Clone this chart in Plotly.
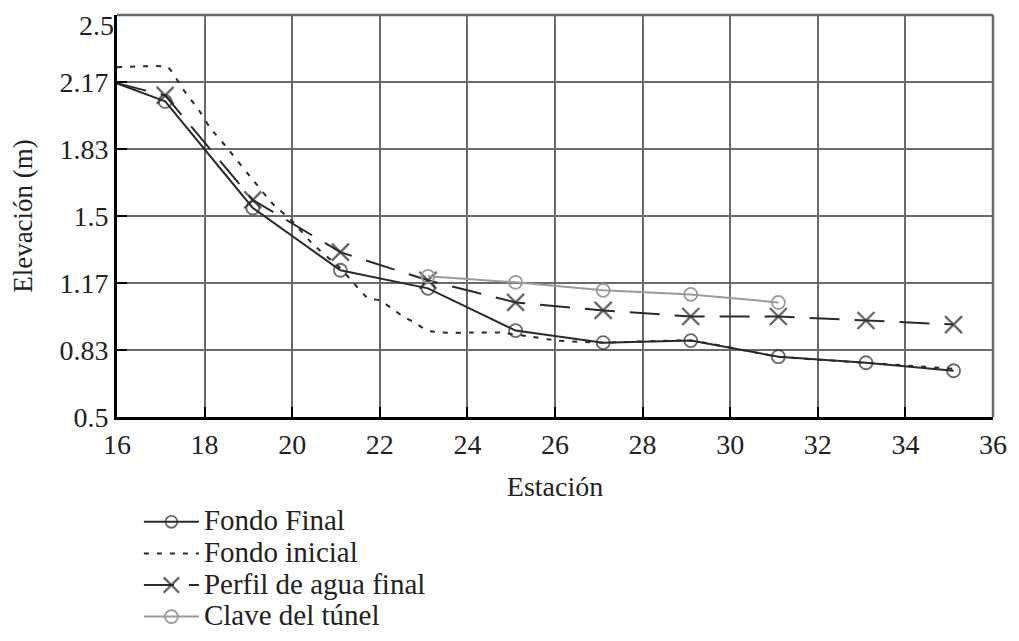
import plotly.graph_objects as go

# ---- data ----
estacion_final = [16, 17.1, 19.1, 21.1, 23.1, 25.1, 27.1, 29.1, 31.1, 33.1, 35.1]
fondo_final = [2.16, 2.07, 1.54, 1.23, 1.14, 0.93, 0.87, 0.88, 0.80, 0.77, 0.73]

estacion_inicial = [16, 17.16, 17.51, 17.89, 18.12, 18.51, 19.1, 19.56, 20.02, 20.47,
                    21.1, 21.39, 21.73, 22.0, 22.28, 22.53, 22.8, 23.08, 23.44, 24.13,
                    24.74, 25.43, 26.05, 27.1, 29.1, 31.1, 33.1, 35.1]
fondo_inicial = [2.24, 2.24, 2.13, 2.02, 1.94, 1.84, 1.68, 1.56, 1.47, 1.36,
                 1.24, 1.17, 1.09, 1.08, 1.04, 1.00, 0.97, 0.93, 0.92, 0.92,
                 0.92, 0.90, 0.88, 0.87, 0.88, 0.80, 0.77, 0.74]

estacion_perfil = [16, 17.1, 19.1, 21.1, 23.1, 25.1, 27.1, 29.1, 31.1, 33.1, 35.1]
perfil_agua = [2.16, 2.10, 1.58, 1.32, 1.18, 1.07, 1.03, 1.00, 1.00, 0.98, 0.96]

estacion_clave = [23.1, 25.1, 27.1, 29.1, 31.1]
clave_tunel = [1.20, 1.17, 1.13, 1.11, 1.07]

series_names = ["Fondo Final", "Fondo inicial", "Perfil de agua final", "Clave del túnel"]

y_tick_vals = [0.5, 0.5 + 1 / 3, 0.5 + 2 / 3, 1.5, 1.5 + 1 / 3, 1.5 + 2 / 3, 2.5]
y_tick_text = ["0.5", "0.83", "1.17", "1.5", "1.83", "2.17", "2.5"]
x_tick_vals = list(range(16, 37, 2))

# ---- styles ----
DARK = "#2a2a2a"
GRAY = "#9a9a9a"
FONT = "Liberation Serif, Times New Roman, DejaVu Serif, serif"
TXT = "#222"
LEG_SIZE = 29
TICK_SIZE = 28


def leg(name):
    return f'<span style="font-size:{LEG_SIZE}px">{name}</span>'


fig = go.Figure()

fig.add_trace(go.Scatter(
    x=estacion_final, y=fondo_final, name=leg(series_names[0]),
    mode="lines+markers",
    line=dict(color=DARK, width=2),
    marker=dict(symbol="circle-open", size=[0] + [13] * (len(estacion_final) - 1),
                color=DARK, line=dict(width=1.8, color=DARK)),
))
fig.add_trace(go.Scatter(
    x=estacion_inicial, y=fondo_inicial, name=leg(series_names[1]),
    mode="lines",
    line=dict(color=DARK, width=2, dash="5px,8px", shape="spline", smoothing=0.4),
))
fig.add_trace(go.Scatter(
    x=estacion_perfil, y=perfil_agua, name=leg(series_names[2]),
    mode="lines+markers",
    line=dict(color=DARK, width=2, dash="30px,15px"),
    marker=dict(symbol="x-thin-open", size=[0] + [17] * (len(estacion_perfil) - 1),
                color=DARK, line=dict(width=2.4, color=DARK)),
))
fig.add_trace(go.Scatter(
    x=estacion_clave, y=clave_tunel, name=leg(series_names[3]),
    mode="lines+markers",
    line=dict(color=GRAY, width=2),
    marker=dict(symbol="circle-open", size=13, color=GRAY,
                line=dict(width=1.8, color=GRAY)),
))

fig.update_layout(
    width=1011, height=633,
    margin=dict(l=109, r=26, t=7, b=224, autoexpand=False),
    paper_bgcolor="white", plot_bgcolor="white",
    font=dict(family=FONT, size=22, color=TXT),
    showlegend=True,
    legend=dict(
        x=0.025, y=-0.209, xanchor="left", yanchor="top",
        font=dict(family=FONT, size=22, color=TXT),
        bgcolor="rgba(0,0,0,0)", tracegroupgap=0, itemwidth=55,
    ),
)

fig.update_xaxes(
    range=[16, 36], tickvals=x_tick_vals,
    showgrid=True, gridcolor="#6a6a6a", gridwidth=1.5,
    showline=True, linecolor="black", linewidth=3, mirror=False,
    ticks="inside", ticklen=10, tickwidth=2, tickcolor="black",
    tickfont=dict(family=FONT, size=TICK_SIZE, color=TXT),
    title=dict(text="Estación", font=dict(family=FONT, size=28, color=TXT), standoff=18),
    zeroline=False, fixedrange=True, ticklabeloverflow="allow",
)
# top label (2.5) is drawn as an annotation nudged down so it is not cut at the page edge
y_axis_text = y_tick_text[:-1] + [""]
fig.update_yaxes(
    range=[0.5, 2.5], tickvals=y_tick_vals, ticktext=y_axis_text,
    showgrid=True, gridcolor="#6a6a6a", gridwidth=1.5,
    showline=True, linecolor="black", linewidth=3, mirror=False,
    ticks="inside", ticklen=10, tickwidth=2, tickcolor="black",
    tickfont=dict(family=FONT, size=TICK_SIZE, color=TXT),
    title=dict(text="Elevación (m)", font=dict(family=FONT, size=27, color=TXT), standoff=19),
    zeroline=False, fixedrange=True, ticklabeloverflow="allow",
)
fig.add_annotation(
    xref="paper", yref="y", x=0, y=y_tick_vals[-1], text=y_tick_text[-1],
    showarrow=False, xanchor="right", yanchor="top", xshift=-2, yshift=6,
    borderpad=0, font=dict(family=FONT, size=TICK_SIZE, color=TXT),
)

# gray frame at top and right, like the reference
fig.add_shape(type="line", xref="paper", yref="paper", x0=0, x1=1, y0=1, y1=1,
              line=dict(color="#6a6a6a", width=2.5))
fig.add_shape(type="line", xref="paper", yref="paper", x0=1, x1=1, y0=0, y1=1,
              line=dict(color="#6a6a6a", width=2.5))

fig.write_html("out.html")
